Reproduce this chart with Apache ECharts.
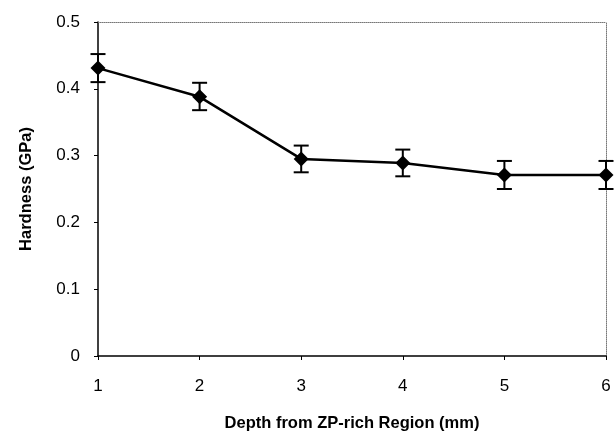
<!DOCTYPE html>
<html>
<head>
    <meta charset="utf-8">
    <title>Hardness vs depth</title>
    <script src="https://cdn.jsdelivr.net/npm/echarts@6/dist/echarts.min.js"></script>
    <style>
        body { margin: 0; background: #fff; }
        #chart1 { width: 616px; height: 438px; }
    </style>
</head>
<body>
<div id="chart1"></div>
<script type="text/javascript">
    // data
    var depth = [1, 2, 3, 4, 5, 6];
    var hardness = [0.431, 0.388, 0.295, 0.289, 0.271, 0.271];
    var errUp = [0.021, 0.021, 0.02, 0.02, 0.021, 0.021];
    var errDown = [0.021, 0.02, 0.02, 0.02, 0.021, 0.021];

    var myChart1 = echarts.init(document.getElementById('chart1'));

    var pts = depth.map(function (d, i) { return [d, hardness[i]]; });
    var bars = depth.map(function (d, i) {
        return [d, hardness[i] - errDown[i], hardness[i] + errUp[i]];
    });

    var font = 'Liberation Sans, Arial, sans-serif';

    myChart1.setOption({
        animation: false,
        grid: { left: 98, right: 10, top: 22, bottom: 82 },
        xAxis: [{
            type: 'value', min: 1, max: 6, interval: 1,
            name: 'Depth from ZP-rich Region (mm)',
            nameLocation: 'middle', nameGap: 59,
            nameTextStyle: { fontFamily: font, fontSize: 16.5, fontWeight: 'bold', color: '#000' },
            axisLine: { lineStyle: { color: '#000', width: 1.5 } },
            axisTick: { length: 4, lineStyle: { color: '#000' } },
            axisLabel: { fontFamily: font, fontSize: 17, color: '#000', margin: 22 },
            splitLine: { show: false }
        }, {
            type: 'value', min: 1, max: 6, position: 'top',
            axisLine: { show: true, onZero: false, lineStyle: { color: '#777', type: 'dotted' } },
            axisTick: { show: false }, axisLabel: { show: false }, splitLine: { show: false }
        }],
        yAxis: [{
            type: 'value', min: 0, max: 0.5, interval: 0.1,
            name: 'Hardness (GPa)',
            nameLocation: 'middle', nameGap: 63,
            nameTextStyle: { fontFamily: font, fontSize: 16.5, fontWeight: 'bold', color: '#000' },
            axisLine: { show: true, lineStyle: { color: '#000', width: 1.5 } },
            axisTick: { show: true, length: 4, lineStyle: { color: '#000' } },
            axisLabel: {
                fontFamily: font, fontSize: 17, color: '#000', margin: 18,
                formatter: function (v) { return v === 0 ? '0' : v.toFixed(1); }
            },
            splitLine: { show: false }
        }, {
            type: 'value', min: 0, max: 0.5, position: 'right',
            axisLine: { show: true, onZero: false, lineStyle: { color: '#777', type: 'dotted' } },
            axisTick: { show: false }, axisLabel: { show: false }, splitLine: { show: false }
        }],
        series: [{
            type: 'line',
            data: pts,
            symbol: 'diamond',
            symbolSize: 15,
            itemStyle: { color: '#000' },
            lineStyle: { color: '#000', width: 2.5 },
            z: 3
        }, {
            type: 'custom',
            data: bars,
            z: 4,
            renderItem: function (params, api) {
                var x = api.value(0);
                var lo = api.coord([x, api.value(1)]);
                var hi = api.coord([x, api.value(2)]);
                var w = 7.5;
                var st = { stroke: '#000', lineWidth: 2 };
                return {
                    type: 'group',
                    children: [
                        { type: 'line', shape: { x1: lo[0], y1: lo[1], x2: hi[0], y2: hi[1] }, style: st },
                        { type: 'line', shape: { x1: hi[0] - w, y1: hi[1], x2: hi[0] + w, y2: hi[1] }, style: st },
                        { type: 'line', shape: { x1: lo[0] - w, y1: lo[1], x2: lo[0] + w, y2: lo[1] }, style: st }
                    ]
                };
            }
        }]
    });
</script>
</body>
</html>
